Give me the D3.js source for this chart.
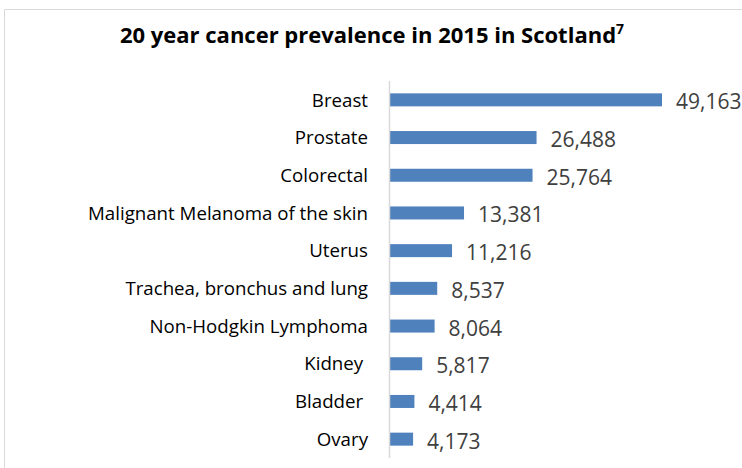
<!DOCTYPE html>
<html><head><meta charset="utf-8">
<script src="https://cdn.jsdelivr.net/npm/d3@7"></script>
<style>body{margin:0;background:#fff;}svg{display:block;}text.cat{white-space:pre;}</style>
</head><body>
<script>
const categories = ["Breast","Prostate","Colorectal","Malignant Melanoma of the skin","Uterus","Trachea, bronchus and lung","Non-Hodgkin Lymphoma","Kidney ","Bladder ","Ovary"];
const values = [49163,26488,25764,13381,11216,8537,8064,5817,4414,4173];
const titleText = "20 year cancer prevalence in 2015 in Scotland";
const titleSup = "7";

const W = 742, H = 468;
const svg = d3.select("body").append("svg").attr("width", W).attr("height", H);

svg.append("path").attr("d", `M4.5,${H} V9.5 H${W}`).attr("fill","none").attr("stroke","#d9d9d9").attr("stroke-width",1);

const x0 = 390;
const x = d3.scaleLinear().domain([0, 49163]).range([x0, 662]);
const y = d3.scaleBand().domain(categories).range([81, 458]).paddingInner(0.655).paddingOuter(0.3275);

const t = svg.append("text").attr("x", 372).attr("y", 43).attr("text-anchor","middle")
  .attr("font-family","Open Sans").attr("font-weight","bold").attr("font-size",22).attr("fill","#000");
t.append("tspan").text(titleText);
t.append("tspan").attr("dy",-9).attr("font-size",14).text(titleSup);

svg.selectAll("rect.bar").data(values).join("rect").attr("class","bar")
  .attr("x", x(0)).attr("y",(d,i)=>y(categories[i]))
  .attr("width", d=>x(d)-x(0)).attr("height", y.bandwidth())
  .attr("fill","#4f81bd");

svg.append("line").attr("x1",389.5).attr("x2",389.5).attr("y1",81).attr("y2",458).attr("stroke","#d9d9d9").attr("stroke-width",1.5);

svg.selectAll("text.cat").data(categories).join("text").attr("class","cat")
  .attr("x", 368).attr("y", d=>y(d)+y.bandwidth()/2).attr("dy","0.36em")
  .attr("text-anchor","end").attr("font-family","Open Sans").attr("font-size",18.7).attr("fill","#000")
  .text(d=>d);

const fmt = d3.format(",");
svg.selectAll("text.val").data(values).join("text").attr("class","val")
  .attr("x", d=>x(d)+14).attr("y",(d,i)=>y(categories[i])+y.bandwidth()/2).attr("dy","0.45em")
  .attr("font-family","Open Sans").attr("font-size",21).attr("fill","#404040")
  .text(d=>fmt(d));
</script>
</body></html>
